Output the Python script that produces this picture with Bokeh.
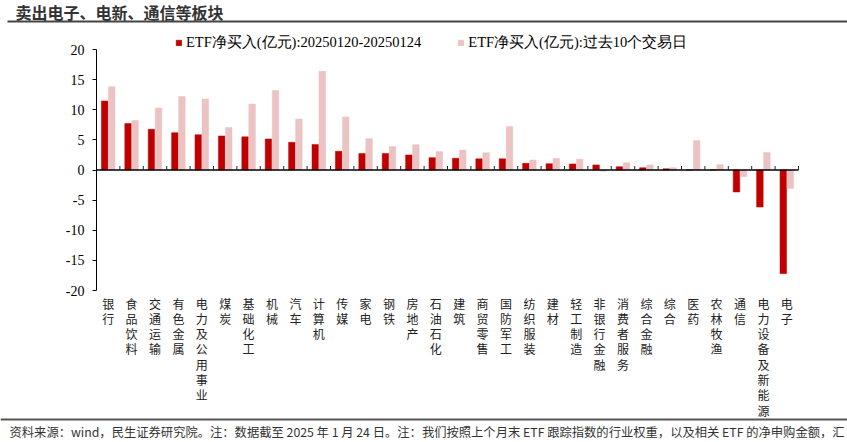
from bokeh.plotting import figure
from bokeh.models import (Range1d, ColumnDataSource, Legend, LegendItem, FixedTicker, LinearAxis)
from bokeh.transform import dodge
from bokeh.core.properties import value
from bokeh.embed import file_html
from bokeh.resources import INLINE

# ---------------- data ----------------
categories = ["银行", "食品饮料", "交通运输", "有色金属", "电力及公用事业", "煤炭", "基础化工", "机械",
              "汽车", "计算机", "传媒", "家电", "钢铁", "房地产", "石油石化", "建筑", "商贸零售",
              "国防军工", "纺织服装", "建材", "轻工制造", "非银行金融", "消费者服务", "综合金融",
              "综合", "医药", "农林牧渔", "通信", "电力设备及新能源", "电子"]
week_flow = [11.45, 7.7, 6.75, 6.2, 5.85, 5.65, 5.5, 5.15, 4.6, 4.25, 3.1, 2.75, 2.75, 2.5,
             2.05, 1.95, 1.85, 1.85, 1.1, 1.05, 1.0, 0.85, 0.55, 0.38, 0.2, 0.0, 0.0,
             -3.65, -6.15, -17.2]
ten_day_flow = [13.8, 8.2, 10.3, 12.2, 11.8, 7.05, 10.95, 13.2, 8.45, 16.4, 8.8, 5.2, 3.9, 4.2,
                3.05, 3.3, 2.85, 7.2, 1.65, 1.9, 1.8, -0.2, 1.2, 0.85, 0.38, 4.9, 0.88,
                -1.1, 2.9, -3.05]
y_ticks = [-20, -15, -10, -5, 0, 5, 10, 15, 20]
series_names = ["ETF净买入(亿元):20250120-20250124", "ETF净买入(亿元):过去10个交易日"]
title_text = "卖出电子、电新、通信等板块"
footer_text = ("资料来源：wind，民生证券研究院。注：数据截至 2025 年 1 月 24 日。注：我们按照上个月末 "
               "ETF 跟踪指数的行业权重，以及相关 ETF 的净申购金额，汇")

RED = "#C00000"
PINK = "#EBC3C3"
n = len(categories)

# ---------------- canvas geometry ----------------
W, H = 847, 442
FRAME_L, FRAME_R = 96, 798      # canvas px of category 0 .. n
FRAME_T, FRAME_B = 49, 290      # canvas px of y = 20 .. -20
YMIN, YMAX = -20, 20
sx = (FRAME_R - FRAME_L) / n
sy = (FRAME_B - FRAME_T) / (YMAX - YMIN)


def dx(px):
    return (px - FRAME_L) / sx


def dy(py):
    return YMAX - (py - FRAME_T) / sy


p = figure(width=W, height=H, x_range=Range1d(dx(0), dx(W)), y_range=Range1d(dy(H), dy(0)),
           output_backend="svg", toolbar_location=None, min_border=0)
p.xaxis.visible = False
p.yaxis.visible = False
p.grid.visible = False
p.outline_line_color = None

src = ColumnDataSource(dict(
    x=[i + 0.5 for i in range(n)],
    week=week_flow,
    ten=ten_day_flow,
    label=["\n".join(c) for c in categories],
))

# y axis drawn at x = 0
yax = LinearAxis(ticker=FixedTicker(ticks=y_ticks), fixed_location=0, bounds=(YMIN, YMAX))
yax.major_label_overrides = {t: str(t) for t in y_ticks}
yax.major_tick_out = 4
yax.major_tick_in = 0
yax.minor_tick_line_color = None
yax.axis_line_color = "black"
yax.major_tick_line_color = "black"
yax.major_label_text_font = "Liberation Serif"
yax.major_label_text_font_size = "14px"
yax.major_label_text_color = "black"
yax.major_label_standoff = 8
p.add_layout(yax, "left")

r1 = p.vbar(x=dodge("x", -0.15, range=p.x_range), top="week", bottom=0, width=0.28,
            source=src, fill_color=RED, line_color=RED, line_width=0.5)
r2 = p.vbar(x=dodge("x", 0.15, range=p.x_range), top="ten", bottom=0, width=0.28,
            source=src, fill_color=PINK, line_color=PINK, line_width=0.5)

# zero line with category boundary ticks
p.segment(x0=[0], y0=[0], x1=[n], y1=[0], line_color="black", line_width=1.5)
p.segment(x0=list(range(1, n + 1)), y0=[0] * n, x1=list(range(1, n + 1)),
          y1=[4 / sy] * n, line_color="#222222", line_width=1)

# category labels (stacked vertical text)
p.text(x="x", y=dy(FRAME_B + 4), text="label", source=src,
       text_align="center", text_baseline="top",
       text_font=value("Noto Sans CJK SC"), text_font_size="12px",
       text_color="#222222", text_line_height=0.9)

legend = Legend(items=[LegendItem(label=series_names[0], renderers=[r1]),
                       LegendItem(label=series_names[1], renderers=[r2])],
                orientation="horizontal", location=(175, H - 44 - 8),
                glyph_width=7, glyph_height=7, label_standoff=4, spacing=36,
                padding=0, margin=0, border_line_color=None, background_fill_alpha=0,
                label_text_font="Liberation Serif", label_text_font_size="14.5px",
                label_text_color="black", label_height=16)
p.add_layout(legend, "center")

# title and rule
p.text(x=[dx(15)], y=[dy(11)], text=[title_text], text_font=value("Noto Sans CJK SC"),
       text_font_size="16px", text_font_style="bold", text_color="#333333",
       text_baseline="middle", text_align="left")
p.segment(x0=[dx(7)], y0=[dy(21)], x1=[dx(W)], y1=[dy(21)], line_color="#444444", line_width=2)

# footer
p.segment(x0=[dx(0)], y0=[dy(419)], x1=[dx(W)], y1=[dy(419)], line_color="#555555", line_width=2)
p.text(x=[dx(9)], y=[dy(431)], text=[footer_text], text_font=value("Noto Sans CJK SC"),
       text_font_size="12.3px", text_color="#333333",
       text_baseline="middle", text_align="left")

open("out.html", "w").write(file_html(p, INLINE))
